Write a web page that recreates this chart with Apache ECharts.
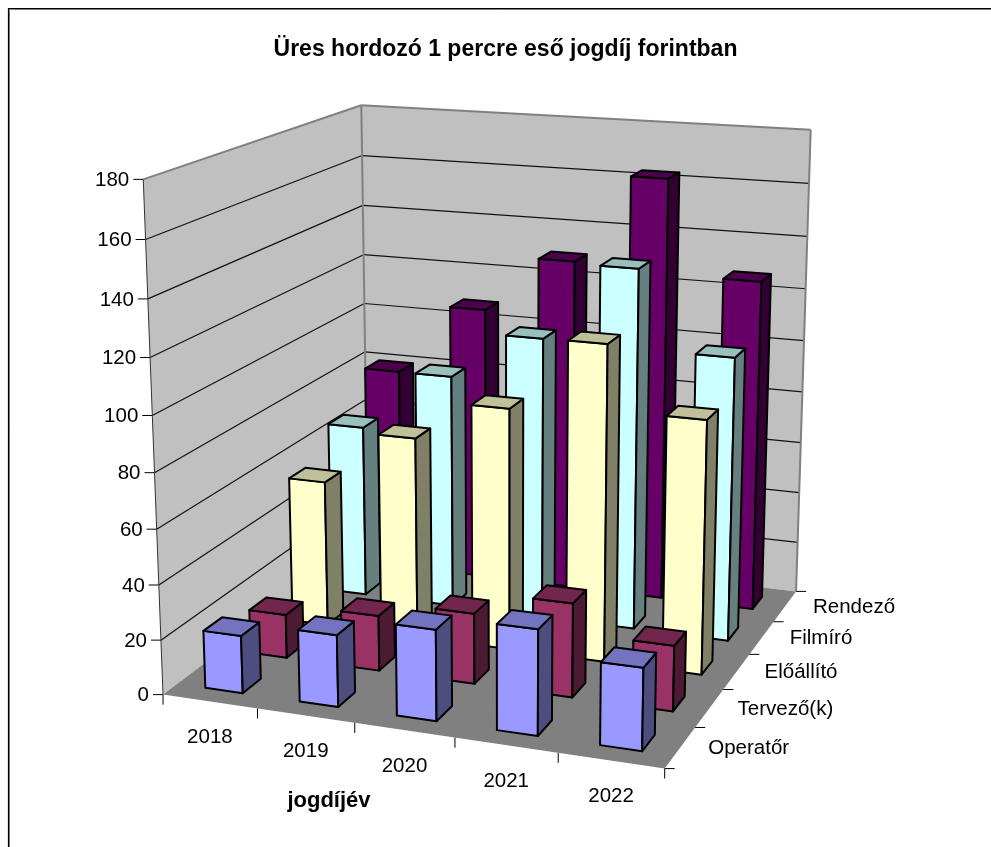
<!DOCTYPE html>
<html><head><meta charset="utf-8">
<style>html,body{margin:0;padding:0;background:#fff}#c{width:991px;height:847px}</style>
<script src="https://cdn.jsdelivr.net/npm/echarts@6/dist/echarts.min.js"></script>
</head><body><div id="c"></div>
<script>
const years = ['2018','2019','2020','2021','2022'];
const seriesNames = ['Operatőr','Tervező(k)','Előállító','Filmíró','Rendező'];
const valueTicks = [0,20,40,60,80,100,120,140,160,180];
const operator = [21,26,32.7,37.5,29];
const tervezo = [16.3,20.5,26,34.3,23.7];
const eloallito = [55.5,75.8,90.4,117,93.3];
const filmiro = [66.8,90,107.6,136.4,106.8];
const rendezo = [80,107.7,129.3,163,127];
const seriesValues = [operator,tervezo,eloallito,filmiro,rendezo];
const faceColors = [
  ['#9999FF','#7373BF','#4D4D80'],
  ['#993366','#73264D','#4D1A33'],
  ['#FFFFCC','#BFBF99','#808066'],
  ['#CCFFFF','#99BFBF','#668080'],
  ['#660066','#4D004D','#330033']
];
const FONT = '"Liberation Sans", Arial, sans-serif';
const LABEL = 20.5;
// camera: unit-cube corners (along years, along series, height) as seen on the page
const cubeCorners = [
  [0,0,0,162.5,695.5],[1,0,0,665,767.5],[0,1,0,368.5,539],[1,1,0,795.7,592.7],
  [0,0,1,143.5,179.5],[0,1,1,361,105.5],[1,1,1,810.8,129.3]
];
function solveCamera(c){
  const A=[],b=[];
  c.forEach(([x,y,z,px,py])=>{
    A.push([x,y,z,1,0,0,0,0,-px*x,-px*y,-px*z]);b.push(px);
    A.push([0,0,0,0,x,y,z,1,-py*x,-py*y,-py*z]);b.push(py);
  });
  const n=11,M=[];
  for(let i=0;i<n;i++){M.push([]);for(let j=0;j<=n;j++){let s=0;
    for(let r=0;r<A.length;r++)s+=A[r][i]*(j<n?A[r][j]:b[r]);M[i].push(s);}}
  for(let i=0;i<n;i++){let p=i;for(let r=i+1;r<n;r++)if(Math.abs(M[r][i])>Math.abs(M[p][i]))p=r;
    [M[i],M[p]]=[M[p],M[i]];
    for(let r=0;r<n;r++){if(r===i)continue;const f=M[r][i]/M[i][i];for(let k=i;k<=n;k++)M[r][k]-=f*M[i][k];}}
  return M.map((row,i)=>row[n]/row[i]);
}
const K=solveCamera(cubeCorners);
function P(x,y,z){
  const d=K[8]*x+K[9]*y+K[10]*z+1;
  return [(K[0]*x+K[1]*y+K[2]*z+K[3])/d,(K[4]*x+K[5]*y+K[6]*z+K[7])/d];
}
const BAR=0.4, DEPTH=0.4;
const poly=(pts,fill,stroke,lw)=>({type:'polygon',shape:{points:pts},style:{fill:fill,stroke:stroke||null,lineWidth:lw||0,lineJoin:'round'},silent:true});
const line=(a,b,col,lw)=>({type:'line',shape:{x1:a[0],y1:a[1],x2:b[0],y2:b[1]},style:{stroke:col,lineWidth:lw||1},silent:true});
const txt=(s,x,y,al,bl,size,w)=>({type:'text',style:{text:s,x:x,y:y,align:al,verticalAlign:bl,font:(w?w+' ':'')+size+'px '+FONT,fill:'#000'},silent:true});

function barItem(j){
  return function(params,api){
    const W=api.getWidth(), H=api.getHeight();
    const i=api.value(0), val=api.value(1);
    const c=api.coord([i,val]);
    const bw=api.size([1,0])[0]/W;
    const u=c[0]/W, w=1-c[1]/H;
    const u0=u-bw*BAR/2,u1=u+bw*BAR/2;
    const dv=1/seriesNames.length;
    const vc=(j+0.5)*dv, v0=vc-dv*DEPTH/2, v1=vc+dv*DEPTH/2;
    const f=faceColors[j], S='#000', L=2;
    return {type:'group',children:[
      poly([P(u0,v0,0),P(u1,v0,0),P(u1,v0,w),P(u0,v0,w)],f[0],S,L),
      poly([P(u1,v0,0),P(u1,v1,0),P(u1,v1,w),P(u1,v0,w)],f[2],S,L),
      poly([P(u0,v0,w),P(u1,v0,w),P(u1,v1,w),P(u0,v1,w)],f[1],S,L)
    ]};
  };
}
function frameItem(){
  const kids=[];
  const G='#808080';
  kids.push(poly([P(0,0,0),P(0,1,0),P(0,1,1),P(0,0,1)],'#C0C0C0'));
  kids.push(poly([P(0,1,0),P(1,1,0),P(1,1,1),P(0,1,1)],'#C0C0C0'));
  kids.push(poly([P(0,0,0),P(1,0,0),P(1,1,0),P(0,1,0)],'#808080'));
  const top=valueTicks[valueTicks.length-1];
  valueTicks.forEach(t=>{
    const w=t/top, a=P(0,0,w), b=P(0,1,w), c=P(1,1,w);
    if(t>0&&t<top){kids.push(line(a,b,'#111',1.2));kids.push(line(b,c,'#111',1.2));}
    kids.push(line([a[0]-10,a[1]],a,'#000',1));
    kids.push(txt(String(t),a[0]-14,a[1]+1,'right','middle',LABEL));
  });
  kids.push(line(P(0,0,1),P(0,1,1),G,2));
  kids.push(line(P(0,1,1),P(1,1,1),G,2));
  kids.push(line(P(1,1,1),P(1,1,0),G,2));
  kids.push(line(P(0,1,1),P(0,1,0),G,2));
  kids.push(line(P(0,0,0),P(0,0,1),'#333',1));
  for(let i=0;i<=years.length;i++){
    const a=P(i/years.length,0,0);
    kids.push(line(a,[a[0],a[1]+10],'#000',1));
    if(i<years.length){const m=P((i+.5)/years.length,0,0);kids.push(txt(years[i],m[0],m[1]+36,'center','middle',LABEL));}
  }
  for(let j=0;j<=seriesNames.length;j++){
    const a=P(1,j/seriesNames.length,0);
    kids.push(line(a,[a[0]+10,a[1]],'#000',1));
    if(j<seriesNames.length){const m=P(1,(j+.5)/seriesNames.length,0);kids.push(txt(seriesNames[j],m[0]+28,m[1]+1,'left','middle',LABEL));}
  }
  kids.push(txt('jogdíjév',329,801,'center','middle',22,'bold'));
  return {type:'group',children:kids};
}
const chart=echarts.init(document.getElementById('c'));
chart.setOption({
  animation:false,
  backgroundColor:'#fff',
  title:{text:'Üres hordozó 1 percre eső jogdíj forintban',left:500.5,top:33,textAlign:'center',
    textStyle:{fontFamily:FONT,fontSize:23,fontWeight:'bold',color:'#000'}},
  grid:{left:0,top:0,right:0,bottom:0,containLabel:false},
  xAxis:{type:'category',data:years,show:false},
  yAxis:{type:'value',min:0,max:180,interval:20,show:false},
  tooltip:{show:false},
  graphic:[
    {type:'polyline',shape:{points:[[9.5,847],[9.5,9.5],[991,9.5]]},style:{fill:'none',stroke:'#808080',lineWidth:1},silent:true},
    {type:'polyline',shape:{points:[[8.5,847],[8.5,8.5],[991,8.5]]},style:{fill:'none',stroke:'#000',lineWidth:1.2},silent:true}
  ],
  series:[
    {type:'custom',name:'frame',coordinateSystem:'none',z:1,data:[[0]],renderItem:frameItem,silent:true,clip:false},
    ...seriesNames.map((n,j)=>({
      type:'custom',name:n,coordinateSystem:'cartesian2d',z:20-j,clip:false,silent:true,
      encode:{x:0,y:1},
      data:seriesValues[j].map((v,i)=>[i,v]),
      renderItem:barItem(j)
    }))
  ]
});
</script></body></html>
